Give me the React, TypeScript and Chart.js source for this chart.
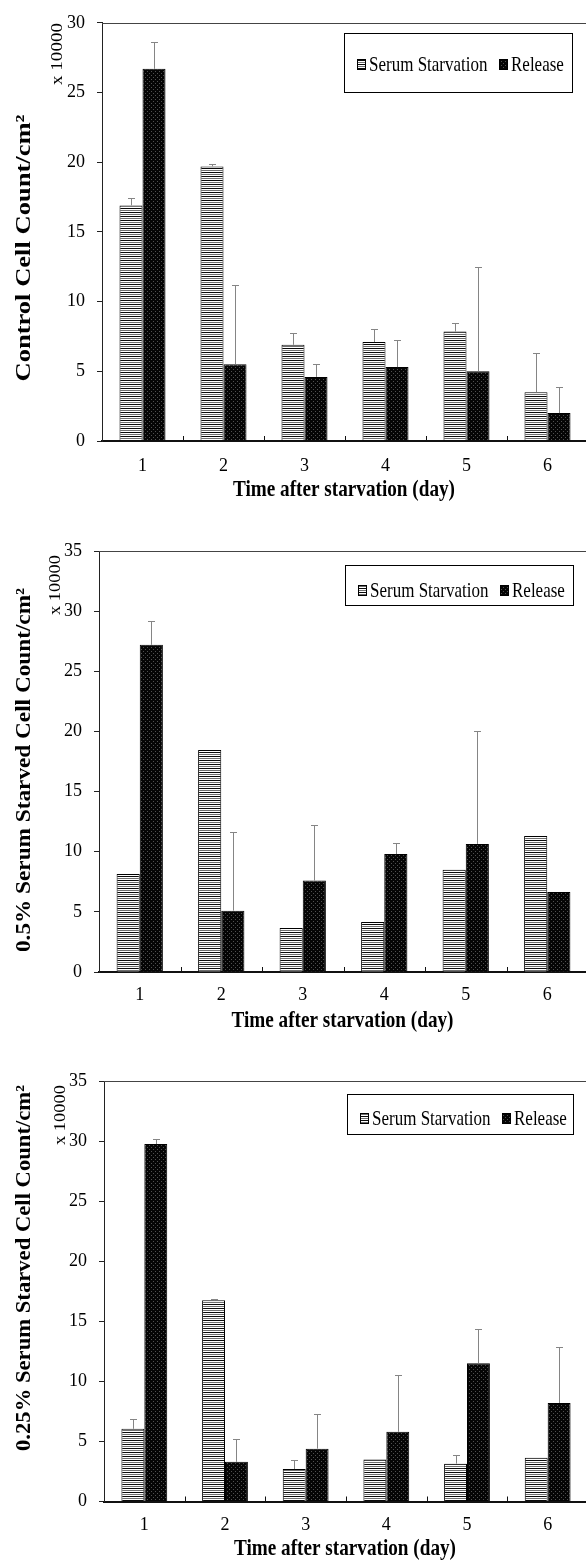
import React, { useEffect, useRef } from 'react';
import { Chart, registerables } from 'chart.js';
Chart.register(...registerables);

// ---------- data ----------
const days = ['1', '2', '3', '4', '5', '6'];
const seriesNames = ['Serum Starvation', 'Release'];
const xTitle = 'Time after starvation (day)';
const multiplierLabel = 'x 10000';

const controlSerum = [16.9, 19.7, 6.9, 7.1, 7.85, 3.5];
const controlSerumErr = [0.55, 0.2, 0.85, 0.9, 0.6, 2.8];
const controlRelease = [26.7, 5.5, 4.6, 5.3, 5.0, 2.0];
const controlReleaseErr = [1.9, 5.7, 0.9, 1.95, 7.5, 1.9];

const halfSerum = [8.15, 18.45, 3.65, 4.15, 8.5, 11.3];
const halfSerumErr = [0, 0, 0, 0, 0, 0];
const halfRelease = [27.2, 5.1, 7.6, 9.8, 10.65, 6.65];
const halfReleaseErr = [2.0, 6.55, 4.65, 0.95, 9.4, 0];

const quarterSerum = [6.05, 16.75, 2.7, 3.5, 3.15, 3.65];
const quarterSerumErr = [0.85, 0.12, 0.75, 0, 0.75, 0];
const quarterRelease = [29.75, 3.3, 4.4, 5.8, 11.5, 8.2];
const quarterReleaseErr = [0.4, 1.9, 2.85, 4.7, 2.85, 4.7];

const yTitles = [
  'Control Cell Count/cm²',
  '0.5% Serum Starved Cell Count/cm²',
  '0.25% Serum Starved Cell Count/cm²',
];
const yMaxes = [30, 35, 35];

// ---------- layout ----------
const CANVAS_W = 590;
const specs = [
  {
    pageTop: 0, height: 515, left: 102, top: 20, bottom: 441, labelPad: 14.5,
    yTitleY: 248, yTitleLen: 267, multX: 58, multY: 54, multLen: 62,
    xTitleY: 490, legend: { x: 344, y: 33, w: 228, h: 59, cy: 64 },
    serum: controlSerum, serumErr: controlSerumErr, release: controlRelease, releaseErr: controlReleaseErr,
  },
  {
    pageTop: 520, height: 515, left: 99, top: 31, bottom: 452, labelPad: 12,
    yTitleY: 250, yTitleLen: 364, multX: 56, multY: 65, multLen: 60,
    xTitleY: 501, legend: { x: 345, y: 45, w: 228, h: 40, cy: 70 },
    serum: halfSerum, serumErr: halfSerumErr, release: halfRelease, releaseErr: halfReleaseErr,
  },
  {
    pageTop: 1040, height: 520, left: 104, top: 41, bottom: 461.5, labelPad: 12.5,
    yTitleY: 228, yTitleLen: 366, multX: 61, multY: 75, multLen: 60,
    xTitleY: 509, legend: { x: 347, y: 54, w: 226, h: 40, cy: 78 },
    serum: quarterSerum, serumErr: quarterSerumErr, release: quarterRelease, releaseErr: quarterReleaseErr,
  },
];

const SERIF = "'Liberation Serif', 'Times New Roman', serif";

function stripePattern(ctx: CanvasRenderingContext2D) {
  const c = document.createElement('canvas');
  c.width = 4; c.height = 4;
  const g = c.getContext('2d')!;
  g.fillStyle = '#ffffff'; g.fillRect(0, 0, 4, 4);
  g.fillStyle = '#0a0a0a'; g.fillRect(0, 0, 4, 1);
  g.fillStyle = '#6e6e6e'; g.fillRect(0, 2, 4, 1);
  return ctx.createPattern(c, 'repeat')!;
}
function dotPattern(ctx: CanvasRenderingContext2D) {
  const c = document.createElement('canvas');
  c.width = 4; c.height = 4;
  const g = c.getContext('2d')!;
  g.fillStyle = '#050505'; g.fillRect(0, 0, 4, 4);
  g.fillStyle = '#505050'; g.fillRect(1, 1, 1, 1); g.fillRect(3, 3, 1, 1);
  return ctx.createPattern(c, 'repeat')!;
}

function ChartPanel({ idx }: { idx: number }) {
  const ref = useRef<HTMLCanvasElement>(null);
  useEffect(() => {
    const s = specs[idx];
    const canvas = ref.current!;
    const ctx = canvas.getContext('2d')!;
    const stripes = stripePattern(ctx);
    const dots = dotPattern(ctx);
    const values = [s.serum, s.release];
    const errs = [s.serumErr, s.releaseErr];

    const decor = {
      id: 'decor' + idx,
      afterDraw(chart: any) {
        const c: CanvasRenderingContext2D = chart.ctx;
        const area = chart.chartArea;
        const xs = chart.scales.x;
        const ys = chart.scales.y;
        c.save();
        // top border
        c.strokeStyle = '#444';
        c.lineWidth = 1;
        c.beginPath();
        c.moveTo(area.left, Math.round(area.top) + 0.5);
        c.lineTo(area.right, Math.round(area.top) + 0.5);
        c.stroke();
        // inward category separator ticks
        c.strokeStyle = '#111';
        for (let i = 1; i < days.length; i++) {
          const px = Math.round((xs.getPixelForTick(i - 1) + xs.getPixelForTick(i)) / 2) + 0.5;
          c.beginPath();
          c.moveTo(px, area.bottom);
          c.lineTo(px, area.bottom - 5);
          c.stroke();
        }
        // error bars
        c.strokeStyle = '#858585';
        for (let d = 0; d < 2; d++) {
          const meta = chart.getDatasetMeta(d);
          meta.data.forEach((bar: any, j: number) => {
            const e = errs[d][j];
            if (!e) return;
            const yTop = Math.round(ys.getPixelForValue(values[d][j] + e)) + 0.5;
            const bx = Math.round(bar.x) + 0.5;
            c.beginPath();
            c.moveTo(bx, bar.y);
            c.lineTo(bx, yTop);
            c.moveTo(bx - 3.5, yTop);
            c.lineTo(bx + 3.5, yTop);
            c.stroke();
          });
        }
        // y title (rotated, stretched along length)
        c.fillStyle = '#000';
        c.font = `bold 21px ${SERIF}`;
        let w = c.measureText(yTitles[idx]).width;
        c.save();
        c.translate(25, s.yTitleY);
        c.rotate(-Math.PI / 2);
        c.scale(s.yTitleLen / w, 1);
        c.textAlign = 'center';
        c.textBaseline = 'middle';
        c.fillText(yTitles[idx], 0, 0);
        c.restore();
        // multiplier
        c.font = `16px ${SERIF}`;
        w = c.measureText(multiplierLabel).width;
        c.save();
        c.translate(s.multX, s.multY);
        c.rotate(-Math.PI / 2);
        c.scale(s.multLen / w, 1);
        c.textAlign = 'center';
        c.textBaseline = 'middle';
        c.fillText(multiplierLabel, 0, 0);
        c.restore();
        // x title
        c.font = `bold 19px ${SERIF}`;
        w = c.measureText(xTitle).width;
        c.save();
        c.translate((area.left + 588) / 2 - 1, s.xTitleY);
        c.scale(222 / w, 1.26);
        c.textAlign = 'center';
        c.textBaseline = 'middle';
        c.fillText(xTitle, 0, 0);
        c.restore();
        // legend
        const L = s.legend;
        c.strokeStyle = '#000';
        c.lineWidth = 1;
        c.strokeRect(L.x + 0.5, L.y + 0.5, L.w, L.h);
        const items = [
          { mx: L.x + 13, tx: L.x + 25, fill: stripes, label: seriesNames[0] },
          { mx: L.x + 155, tx: L.x + 167, fill: dots, label: seriesNames[1] },
        ];
        c.font = `17px ${SERIF}`;
        items.forEach((it) => {
          c.fillStyle = it.fill;
          c.fillRect(it.mx, L.cy - 5, 9, 11);
          c.strokeStyle = '#000';
          c.strokeRect(it.mx + 0.5, L.cy - 5 + 0.5, 8, 10);
          c.save();
          c.fillStyle = '#000';
          c.translate(it.tx, L.cy);
          c.scale(1, 1.2);
          c.textAlign = 'left';
          c.textBaseline = 'middle';
          c.fillText(it.label, 0, 1);
          c.restore();
        });
        c.restore();
      },
    };

    const chart = new Chart(canvas, {
      type: 'bar',
      data: {
        labels: days,
        datasets: [
          {
            label: seriesNames[0],
            data: s.serum,
            backgroundColor: stripes as any,
            borderColor: '#000',
            borderWidth: 1,
          },
          {
            label: seriesNames[1],
            data: s.release,
            backgroundColor: dots as any,
            borderColor: '#000',
            borderWidth: 1,
          },
        ],
      },
      options: {
        responsive: false,
        animation: false,
        devicePixelRatio: 1,
        layout: { padding: { top: s.top, right: CANVAS_W - 588, bottom: 0, left: 0 } },
        datasets: { bar: { barPercentage: 1, categoryPercentage: 46 / 81 } },
        plugins: { legend: { display: false }, title: { display: false }, tooltip: { enabled: false } },
        scales: {
          x: {
            type: 'category',
            offset: true,
            grid: { display: false, drawTicks: false },
            border: { display: true, color: '#111', width: 2 },
            ticks: { color: '#000', padding: s.labelPad, font: { family: SERIF, size: 18 } },
            afterFit: (sc: any) => { sc.height = s.height - s.bottom; },
          },
          y: {
            min: 0,
            max: yMaxes[idx],
            ticks: { stepSize: 5, color: '#000', padding: 12, font: { family: SERIF, size: 18 } },
            grid: { drawOnChartArea: false, drawTicks: true, tickLength: 5, color: '#222' },
            border: { display: true, color: '#222', width: 1 },
            afterFit: (sc: any) => { sc.width = s.left; },
          },
        },
      },
      plugins: [decor],
    } as any);
    return () => chart.destroy();
  }, [idx]);
  const s = specs[idx];
  return (
    <div style={{ position: 'absolute', left: 0, top: s.pageTop, width: CANVAS_W, height: s.height }}>
      <canvas ref={ref} width={CANVAS_W} height={s.height} style={{ display: 'block' }} />
    </div>
  );
}

export default function App() {
  return (
    <div style={{ position: 'absolute', left: 0, top: 0, width: 586, height: 1560, overflow: 'hidden', background: '#fff' }}>
      <ChartPanel idx={0} />
      <ChartPanel idx={1} />
      <ChartPanel idx={2} />
    </div>
  );
}
